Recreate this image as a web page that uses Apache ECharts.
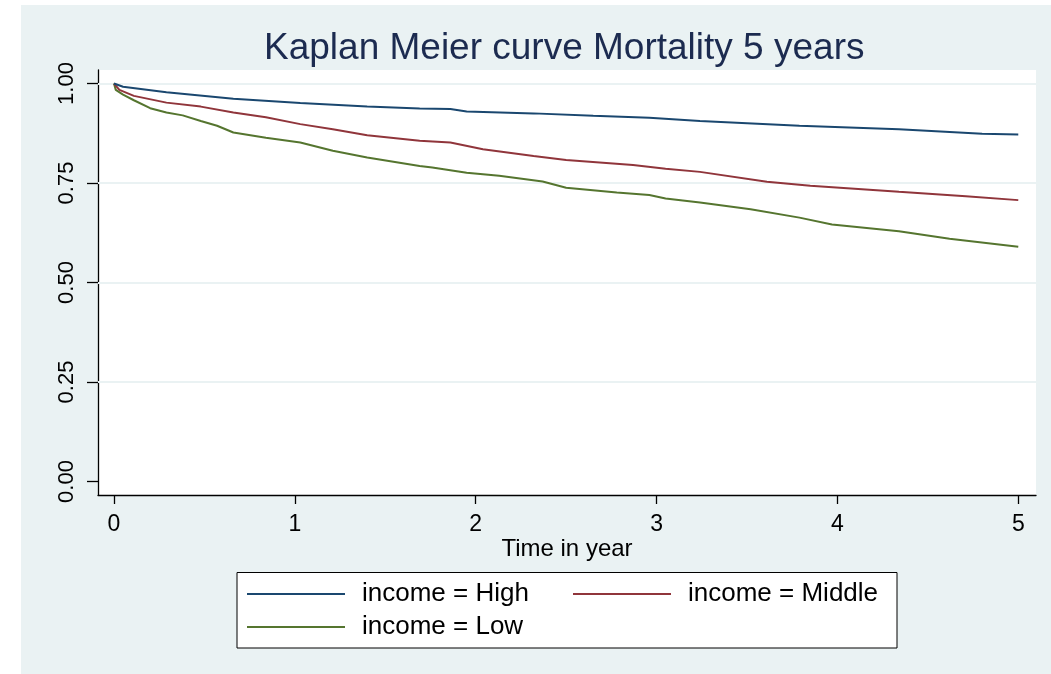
<!DOCTYPE html>
<html>
<head>
<meta charset="utf-8">
<script src="https://cdn.jsdelivr.net/npm/echarts@6/dist/echarts.min.js"></script>
<style>
  html, body { margin: 0; padding: 0; background: #fff; }
  .chart {
    position: absolute;
    left: 21px;
    top: 5px;
    width: 1030px;
    height: 669px;
    background: #eaf2f3;
  }
</style>
</head>
<body>
<div class="chart" id="kmChart"></div>
<script>
// Kaplan Meier 生存曲线 - 三个收入组
const chartTitle = 'Kaplan Meier curve Mortality 5 years'
const xTicks = [0, 1, 2, 3, 4, 5]
const yTicks = [0, 0.25, 0.5, 0.75, 1]
const gridValues = [0.25, 0.5, 0.75, 1]

const highTime = [0, 0.05, 0.29, 0.66, 1.03, 1.40, 1.69, 1.86, 1.95, 2.32, 2.65, 2.96, 3.24, 3.79, 4.34, 4.80, 5.0]
const highSurv = [1.0, 0.992, 0.978, 0.962, 0.951, 0.942, 0.937, 0.936, 0.930, 0.925, 0.919, 0.914, 0.906, 0.894, 0.885, 0.874, 0.872]

const middleTime = [0, 0.03, 0.11, 0.29, 0.48, 0.66, 0.84, 1.03, 1.21, 1.40, 1.69, 1.86, 2.04, 2.32, 2.50, 2.87, 3.05, 3.24, 3.61, 3.85, 4.34, 4.71, 5.0]
const middleSurv = [1.0, 0.984, 0.969, 0.952, 0.942, 0.927, 0.915, 0.898, 0.885, 0.870, 0.856, 0.852, 0.835, 0.818, 0.808, 0.795, 0.786, 0.778, 0.753, 0.743, 0.728, 0.717, 0.707]

const lowTime = [0, 0.01, 0.05, 0.11, 0.20, 0.29, 0.38, 0.48, 0.57, 0.66, 0.84, 1.03, 1.21, 1.40, 1.69, 1.76, 1.95, 2.13, 2.37, 2.50, 2.78, 2.96, 3.05, 3.24, 3.52, 3.79, 3.97, 4.34, 4.62, 5.0]
const lowSurv = [1.0, 0.984, 0.972, 0.958, 0.938, 0.927, 0.920, 0.906, 0.894, 0.877, 0.864, 0.852, 0.831, 0.814, 0.793, 0.789, 0.776, 0.768, 0.754, 0.738, 0.726, 0.720, 0.711, 0.701, 0.684, 0.663, 0.646, 0.629, 0.610, 0.590]

const groupNames = ['income = High', 'income = Middle', 'income = Low']
const groupColors = ['#1a476f', '#90353b', '#55752f']

const zip = (xs, ys) => xs.map((x, i) => [x, ys[i]])

const myChart = echarts.init(document.getElementById('kmChart'), null, { renderer: 'canvas' })

const font = 'Liberation Sans, Arial, sans-serif'

const lineConfig = {
  type: 'line',
  symbol: 'none',
  smooth: false,
  lineStyle: { width: 2 },
  emphasis: { disabled: true }
}

const legendConfig = {
  icon: 'rect',
  itemWidth: 98,
  itemHeight: 2,
  padding: 0,
  selectedMode: false,
  textStyle: {
    fontFamily: font,
    fontSize: 26,
    lineHeight: 26,
    color: '#000',
    padding: [6, 0, 0, 12]
  }
}

const option = {
  animation: false,
  title: {
    text: chartTitle,
    left: 238,
    top: 20,
    textStyle: {
      fontFamily: font,
      fontSize: 37,
      fontWeight: 'normal',
      color: '#1c2b50'
    }
  },
  graphic: [
    {
      type: 'rect',
      z: 0,
      shape: { x: 216, y: 567.5, width: 660, height: 75.5 },
      style: { fill: '#fff', stroke: '#000', lineWidth: 1 }
    }
  ],
  legend: [
    { ...legendConfig, data: [groupNames[0]], left: 226, top: 573 },
    { ...legendConfig, data: [groupNames[1]], left: 552, top: 573 },
    { ...legendConfig, data: [groupNames[2]], left: 226, top: 606 }
  ],
  grid: {
    left: 77,
    right: 15,
    top: 65,
    bottom: 179,
    show: true,
    backgroundColor: '#fff',
    borderWidth: 0
  },
  xAxis: {
    type: 'value',
    min: -0.0884,
    max: 5.098,
    name: 'Time in year',
    nameLocation: 'middle',
    nameGap: 42,
    nameMoveOverlap: false,
    nameTextStyle: { fontFamily: font, fontSize: 24, color: '#000' },
    axisLine: { show: true, onZero: false, lineStyle: { color: '#000', width: 1.3 } },
    axisTick: { show: true, length: 9, customValues: xTicks, lineStyle: { color: '#000', width: 1.3 } },
    axisLabel: {
      customValues: xTicks,
      margin: 18,
      fontFamily: font,
      fontSize: 23,
      color: '#000'
    },
    splitLine: { show: false }
  },
  yAxis: {
    type: 'value',
    min: -0.034,
    max: 1.034,
    axisLine: { show: true, onZero: false, lineStyle: { color: '#000', width: 1.3 } },
    axisTick: { show: true, length: 11, customValues: yTicks, lineStyle: { color: '#000', width: 1.3 } },
    axisLabel: {
      customValues: yTicks,
      rotate: 90,
      margin: 20,
      fontFamily: font,
      fontSize: 22,
      color: '#000',
      formatter: (v) => v.toFixed(2)
    },
    splitLine: { show: false }
  },
  series: [
    {
      ...lineConfig,
      name: groupNames[0],
      color: groupColors[0],
      data: zip(highTime, highSurv),
      z: 5,
      markLine: {
        silent: true,
        symbol: 'none',
        label: { show: false },
        lineStyle: { color: '#eaf2f3', width: 2, type: 'solid' },
        z: 1,
        data: gridValues.map(v => ({ yAxis: v }))
      }
    },
    {
      ...lineConfig,
      name: groupNames[1],
      color: groupColors[1],
      data: zip(middleTime, middleSurv),
      z: 4
    },
    {
      ...lineConfig,
      name: groupNames[2],
      color: groupColors[2],
      data: zip(lowTime, lowSurv),
      z: 3
    }
  ]
}

myChart.setOption(option)
</script>
</body>
</html>
